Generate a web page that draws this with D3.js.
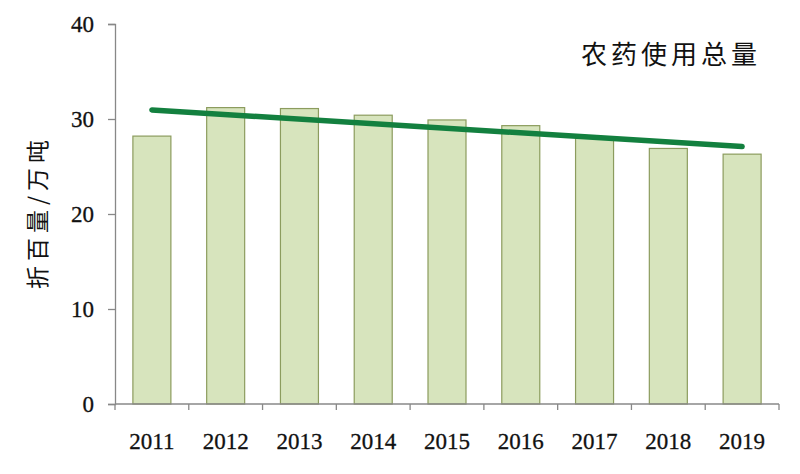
<!DOCTYPE html>
<html>
<head>
<meta charset="utf-8">
<script src="https://cdn.jsdelivr.net/npm/d3@7/dist/d3.min.js"></script>
<style>
  html, body { margin: 0; padding: 0; background: #fff; }
  svg { display: block; }
</style>
</head>
<body>
<svg id="chart" width="800" height="474"></svg>
<script>
const years = ["2011","2012","2013","2014","2015","2016","2017","2018","2019"];
const usage = [28.2, 31.2, 31.1, 30.4, 29.9, 29.3, 28.0, 26.9, 26.3];
const trendYears = ["2011","2019"];
const trendValues = [30.95, 27.1];
const yTicks = [0, 10, 20, 30, 40];
const title = "农药使用总量";
const yLabel = "折百量/万吨";

(function () {
const svg = d3.select("#chart");
const mLeft = 115, mRight = 779, mTop = 24, mBottom = 404;

const x = d3.scaleBand().domain(years).range([mLeft, mRight]).paddingInner(0.485).paddingOuter(0.2425);
const y = d3.scaleLinear().domain([0, 40]).range([mBottom, mTop]);

// bars
svg.append("g").selectAll("rect").data(years).join("rect")
  .attr("x", (d) => x(d))
  .attr("y", (d, i) => y(usage[i]))
  .attr("width", x.bandwidth())
  .attr("height", (d, i) => y(0) - y(usage[i]))
  .attr("fill", "#d7e4bd")
  .attr("stroke", "#8c9c5e")
  .attr("stroke-width", 1.2);

// y axis
const yAxis = svg.append("g")
  .attr("transform", `translate(${mLeft},0)`)
  .call(d3.axisLeft(y).tickValues(yTicks).tickSize(7).tickPadding(14).tickFormat(d3.format("d")));
yAxis.select(".domain").attr("stroke", "#888").attr("stroke-width", 1.3);
yAxis.selectAll(".tick line").attr("stroke", "#888").attr("stroke-width", 1.3);
yAxis.selectAll("text").attr("font-family", "'Liberation Serif', 'Times New Roman', serif")
  .attr("font-size", 23).attr("fill", "#111")
  .attr("stroke", "#111").attr("stroke-width", 0.3);

// x axis with ticks at band boundaries
const xAxisG = svg.append("g").attr("transform", `translate(0,${mBottom})`);
xAxisG.append("line").attr("x1", mLeft).attr("x2", mRight).attr("stroke", "#888").attr("stroke-width", 1.3);
const step = x.step();
const boundaries = years.map((d) => x(d) - x.paddingInner() * step / 2).concat([mRight]);
xAxisG.selectAll("line.tk").data(boundaries).join("line").attr("class", "tk")
  .attr("x1", (d) => d).attr("x2", (d) => d).attr("y1", 0).attr("y2", 6)
  .attr("stroke", "#888").attr("stroke-width", 1.3);
xAxisG.selectAll("text").data(years).join("text")
  .attr("x", (d) => x(d) + x.bandwidth() / 2)
  .attr("y", 45)
  .attr("text-anchor", "middle")
  .attr("font-family", "'Liberation Serif', 'Times New Roman', serif")
  .attr("font-size", 23).attr("fill", "#111")
  .attr("stroke", "#111").attr("stroke-width", 0.3)
  .text((d) => d);

// trend line
const line = d3.line().x((d, i) => x(trendYears[i]) + x.bandwidth() / 2).y((d) => y(d));
svg.append("path").datum(trendValues)
  .attr("d", line)
  .attr("fill", "none")
  .attr("stroke", "#13803f")
  .attr("stroke-width", 5.5)
  .attr("stroke-linecap", "round");

// title
svg.append("text")
  .attr("x", 761).attr("y", 64)
  .attr("text-anchor", "end")
  .attr("font-family", "'Noto Sans CJK SC', sans-serif")
  .attr("font-size", 26)
  .attr("letter-spacing", 4)
  .attr("fill", "#111")
  .text(title);

// y label
svg.append("text")
  .attr("transform", "translate(46,212) rotate(-90)")
  .attr("text-anchor", "middle")
  .attr("font-family", "'Noto Sans CJK SC', sans-serif")
  .attr("font-size", 23)
  .attr("letter-spacing", 5)
  .attr("fill", "#111")
  .text(yLabel);
})();
</script>
</body>
</html>
